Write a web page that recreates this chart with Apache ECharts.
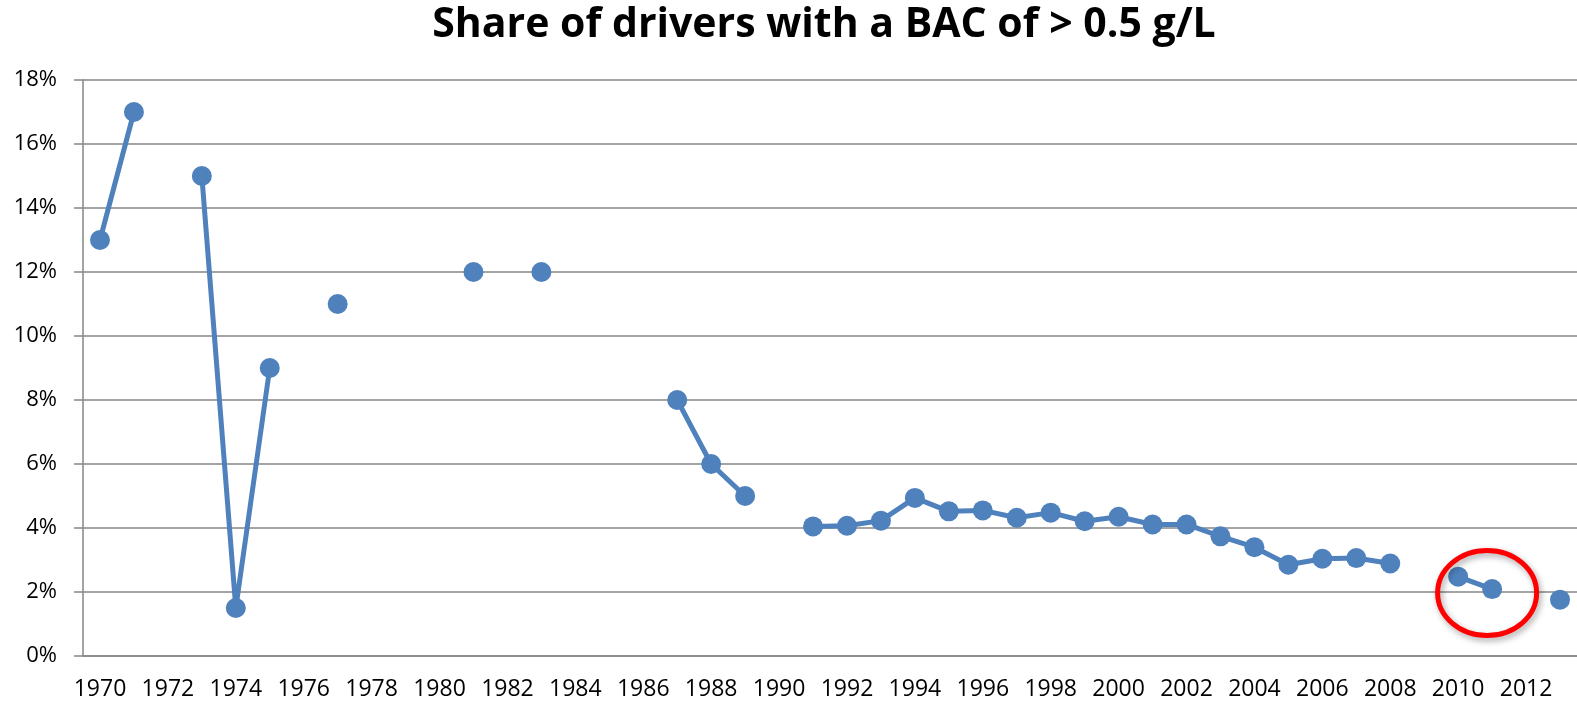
<!DOCTYPE html>
<html>
<head>
<meta charset="utf-8">
<script src="https://cdn.jsdelivr.net/npm/echarts@6/dist/echarts.min.js"></script>
<style>
  html, body { margin: 0; padding: 0; background: #fff; }
  #chart { width: 1577px; height: 703px; }
</style>
</head>
<body>
<div id="chart"></div>
<script>
// years on the category axis
const years = [
  "1970", "1971", "1972", "1973", "1974", "1975", "1976", "1977", "1978", "1979",
  "1980", "1981", "1982", "1983", "1984", "1985", "1986", "1987", "1988", "1989",
  "1990", "1991", "1992", "1993", "1994", "1995", "1996", "1997", "1998", "1999",
  "2000", "2001", "2002", "2003", "2004", "2005", "2006", "2007", "2008", "2009",
  "2010", "2011", "2012", "2013"
];
// share of drivers (%), null = no survey that year
const share = [
  13, 17, null, 15, 1.5, 9, null, 11, null, null,
  null, 12, null, 12, null, null, null, 8, 6, 5,
  null, 4.05, 4.07, 4.23, 4.94, 4.52, 4.55, 4.32, 4.48, 4.21,
  4.35, 4.11, 4.11, 3.74, 3.4, 2.85, 3.04, 3.06, 2.89, null,
  2.48, 2.09, null, 1.76
];
const yTicks = { min: 0, max: 18, step: 2 };
const highlightYear = "2011";

const chart = echarts.init(document.getElementById("chart"));
const gray = "#868686";
const font = "'Open Sans', sans-serif";

chart.setOption({
  animation: false,
  title: {
    text: "Share of drivers with a BAC of > 0.5 g/L",
    left: 819,
    textAlign: "center",
    top: 0,
    textStyle: { fontFamily: font, fontWeight: "bold", fontSize: 41, color: "#000" }
  },
  grid: { left: 83, top: 80, width: 1500, height: 576 },
  xAxis: {
    type: "category",
    data: years,
    boundaryGap: true,
    axisLine: { lineStyle: { color: gray, width: 1.5 } },
    axisTick: { interval: 0, length: 7, lineStyle: { color: gray, width: 1.5 } },
    axisLabel: { interval: 1, margin: 22, fontFamily: font, fontSize: 23, color: "#000" },
    splitLine: { show: false }
  },
  yAxis: {
    type: "value",
    min: yTicks.min,
    max: yTicks.max,
    interval: yTicks.step,
    axisLine: { show: true, lineStyle: { color: gray, width: 1.5 } },
    axisTick: { show: true, length: 9, lineStyle: { color: gray, width: 1.5 } },
    axisLabel: { formatter: "{value}%", margin: 26, fontFamily: font, fontSize: 22, color: "#000" },
    splitLine: { lineStyle: { color: gray, width: 1.5 } }
  },
  series: [{
    type: "line",
    data: share,
    connectNulls: false,
    showSymbol: true,
    showAllSymbol: true,
    symbol: "circle",
    symbolSize: 20,
    itemStyle: { color: "#4F81BD" },
    lineStyle: { color: "#4F81BD", width: 5 }
  }]
});

// red annotation ellipse around the latest pair of points
const c = chart.convertToPixel({ gridIndex: 0 }, [highlightYear, 2]);
chart.setOption({
  graphic: [{
    type: "ellipse",
    shape: { cx: c[0] - 5, cy: c[1] + 1, rx: 49.5, ry: 42.5 },
    style: {
      fill: "none",
      stroke: "#FF0000",
      lineWidth: 5,
      shadowBlur: 6,
      shadowOffsetX: 2,
      shadowOffsetY: 3,
      shadowColor: "rgba(0,0,0,0.35)"
    },
    z: 10
  }]
});
</script>
</body>
</html>
